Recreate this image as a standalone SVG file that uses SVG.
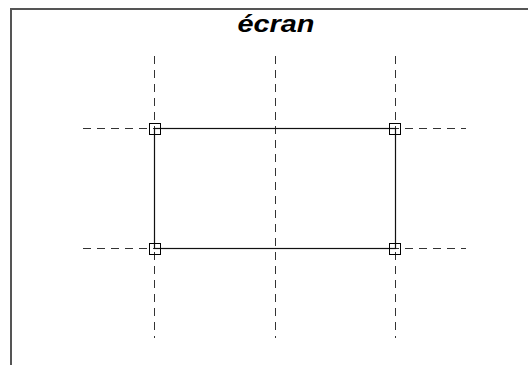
<svg xmlns="http://www.w3.org/2000/svg" width="528" height="365" viewBox="0 0 528 365">
<style>
.frame{fill:none;stroke:#555;stroke-width:2}
.guide{stroke:#333;stroke-width:1;stroke-dasharray:8 6;fill:none}
.rect{fill:none;stroke:#111;stroke-width:1.2}
.handle{fill:none;stroke:#000;stroke-width:1}
.title{font-family:"Liberation Sans",Arial,sans-serif;font-weight:bold;font-style:italic;font-size:24px;fill:#000}
</style>
<rect width="528" height="365" fill="#fff"/>
<g id="frame">
<path class="frame" d="M11,365 V9 H528"/>
</g>
<text id="title" class="title" x="237.5" y="32" textLength="77" lengthAdjust="spacingAndGlyphs">écran</text>
<g id="connectors">
<line class="guide" x1="154.5" y1="56" x2="154.5" y2="338"/>
<line class="guide" x1="275.5" y1="56" x2="275.5" y2="338"/>
<line class="guide" x1="395.5" y1="56" x2="395.5" y2="338"/>
<line class="guide" x1="83" y1="128.5" x2="466" y2="128.5"/>
<line class="guide" x1="83" y1="248.5" x2="466" y2="248.5"/>
</g>
<g id="rectangle">
<rect class="rect" x="154.5" y="128.5" width="241" height="120"/>
</g>
<g id="handles">
<rect class="handle" x="149.5" y="123.5" width="11" height="11"/>
<rect class="handle" x="389.5" y="123.5" width="11" height="11"/>
<rect class="handle" x="149.5" y="243.5" width="11" height="11"/>
<rect class="handle" x="389.5" y="243.5" width="11" height="11"/>
</g>
</svg>
